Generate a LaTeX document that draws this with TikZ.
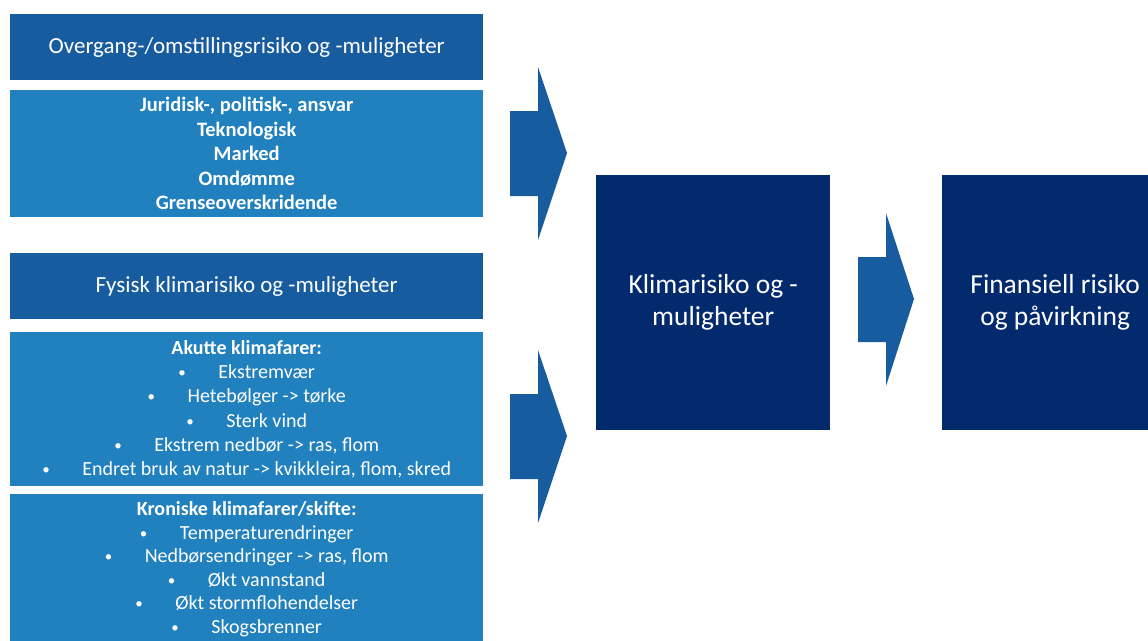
\documentclass[tikz,border=0pt]{standalone}
\usepackage{fontspec}
\setmainfont{Carlito}
\definecolor{hdrblue}{RGB}{24,92,160}
\definecolor{cntblue}{RGB}{33,128,190}
\definecolor{navyblue}{RGB}{4,42,110}
\definecolor{arrblue}{RGB}{24,92,160}
\newcommand{\bl}[1]{\makebox[40pt][l]{\raisebox{1pt}{\fontsize{15}{15}\selectfont•}}#1}
\begin{document}
\begin{tikzpicture}[x=1pt,y=-1pt,
  basebox/.style={inner sep=0pt, text=white, align=center, anchor=north west},
  hdrbox/.style={basebox, fill=hdrblue, minimum width=473pt, minimum height=66pt,
     font=\fontsize{23}{27}\selectfont},
  cntbox/.style={basebox, fill=cntblue, minimum width=473pt,
     font=\fontsize{20}{24.3}\selectfont},
  navybox/.style={basebox, fill=navyblue, minimum width=234pt, minimum height=255pt,
     font=\fontsize{27.5}{32}\selectfont},
  blockarrow/.style={fill=arrblue, draw=none}]
\useasboundingbox (0,0) rectangle (1148,640);
\clip (0,0) rectangle (1148,640);
\node[hdrbox] (h1) at (10,14) {Overgang-/omstillingsrisiko og -muligheter};
\node[cntbox, minimum height=127pt, font=\fontsize{20.5}{24.5}\selectfont\bfseries] (c1) at (10,90)
  {Juridisk-, politisk-, ansvar\\Teknologisk\\Marked\\Omdømme\\Grenseoverskridende};
\node[hdrbox] (h2) at (10,253) {Fysisk klimarisiko og -muligheter};
\node[cntbox, minimum height=154pt] (c2) at (10,332)
  {\textbf{Akutte klimafarer:}\\\bl{Ekstremvær}\\\bl{Hetebølger -> tørke}\\\bl{Sterk vind}\\\bl{Ekstrem nedbør -> ras, flom}\\\bl{Endret bruk av natur -> kvikkleira, flom, skred}};
\node[cntbox, minimum height=150pt, font=\fontsize{20}{23.6}\selectfont] (c3) at (10,494)
  {\textbf{Kroniske klimafarer/skifte:}\\\bl{Temperaturendringer}\\\bl{Nedbørsendringer -> ras, flom}\\\bl{Økt vannstand}\\\bl{Økt stormflohendelser}\\\bl{Skogsbrenner}};
\node[navybox] (k) at (596,175) {Klimarisiko og -\\muligheter};
\node[navybox, minimum width=226pt] (f) at (942,175) {Finansiell risiko\\og påvirkning};
% block arrows
\coordinate (a1) at (510,153);
\coordinate (a2) at (510,436);
\coordinate (a3) at (858,299);
\foreach \p in {a1,a2} {
  \fill[blockarrow] (\p) ++(0,-42) -- ++(28,0) -- ++(0,-44) -- ++(29,86) -- ++(-29,87) -- ++(0,-44) -- ++(-28,0) -- cycle;
}
\fill[blockarrow] (a3) ++(0,-42) -- ++(28,0) -- ++(0,-44) -- ++(28,86) -- ++(-28,87) -- ++(0,-44) -- ++(-28,0) -- cycle;
\end{tikzpicture}
\end{document}
